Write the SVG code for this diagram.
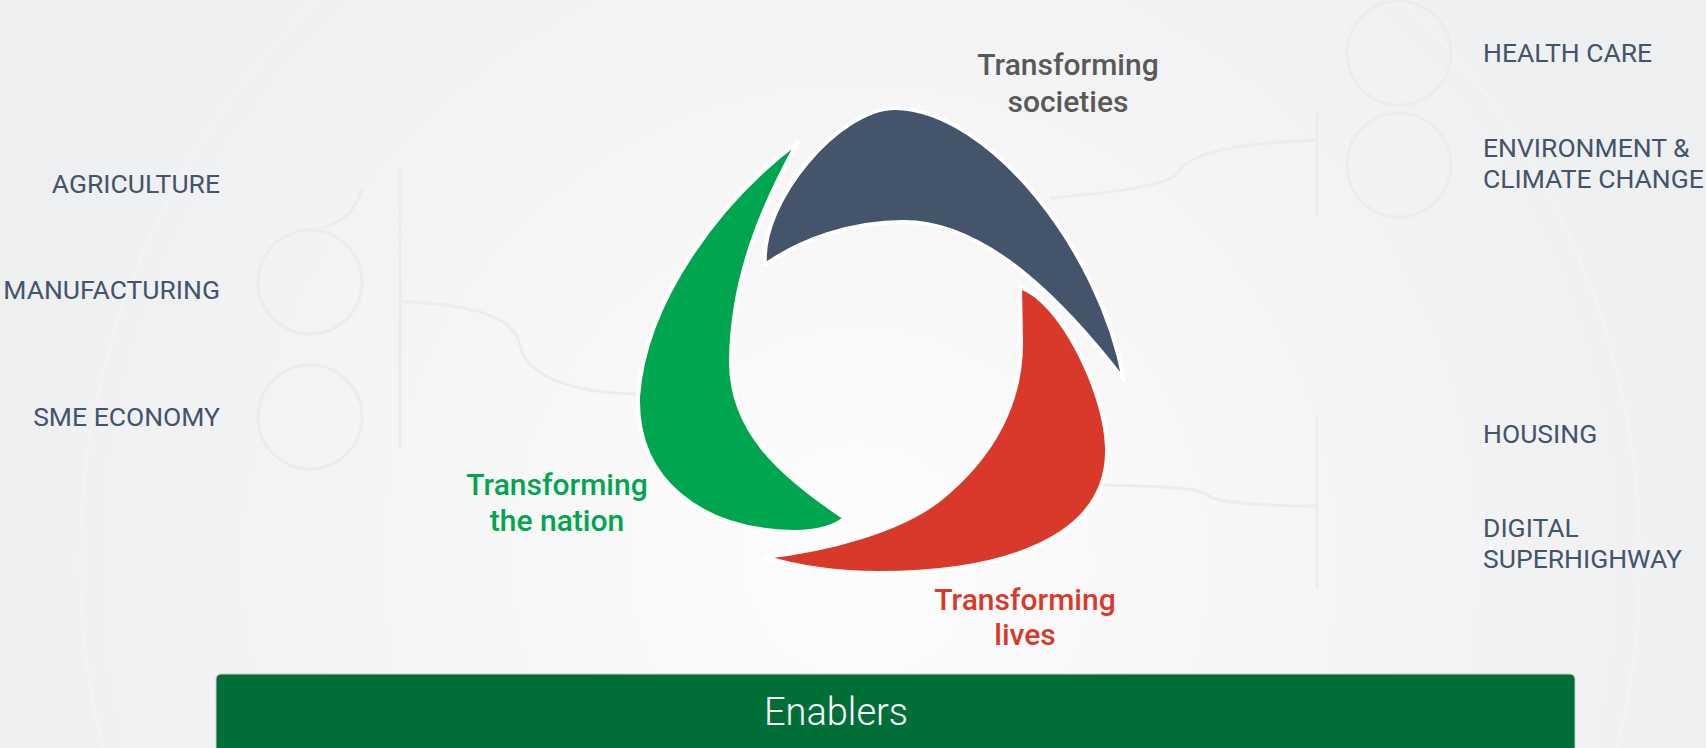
<svg xmlns="http://www.w3.org/2000/svg" width="1706" height="748" viewBox="0 0 1706 748">
<defs>
<radialGradient id="bg" cx="860" cy="560" r="900" gradientUnits="userSpaceOnUse">
<stop offset="0" stop-color="#fdfdfd"/>
<stop offset="0.45" stop-color="#f6f6f7"/>
<stop offset="1" stop-color="#eeeff1"/>
</radialGradient>
<style>
.lbl{font-family:Roboto,"Liberation Sans",sans-serif;font-size:26.5px;fill:#44546a}
.ttl{font-family:Roboto,"Liberation Sans",sans-serif;font-size:30px;font-weight:500;text-anchor:middle}
.deco{fill:none;stroke:#ebecee;stroke-width:3}
.seg{stroke:#ffffff;stroke-width:4;stroke-linejoin:round}
</style>
</defs>
<rect width="1706" height="748" fill="url(#bg)"/>
<g id="background-decor">
<circle cx="860" cy="560" r="780" fill="none" stroke="#f2f3f4" stroke-width="3"/>
<circle class="deco" cx="310" cy="282" r="52"/>
<circle class="deco" cx="310" cy="417" r="52"/>
<path class="deco" d="M323,228 Q355,218 362,188"/>
<line class="deco" x1="400" y1="170" x2="400" y2="448"/>
<circle class="deco" cx="1399" cy="53" r="52"/>
<circle class="deco" cx="1399" cy="165" r="52"/>
<line class="deco" x1="1317" y1="110" x2="1317" y2="217"/>
<line class="deco" x1="1317" y1="417" x2="1317" y2="588"/>
</g>
<g id="connectors">
<path class="deco" d="M402,302 C480,304 515,320 520,345 C525,375 570,393 638,394"/>
<path class="deco" d="M1098,485 C1160,486 1200,488 1206,494 C1212,502 1260,506 1317,506"/>
<path class="deco" d="M1050,198 C1120,192 1170,185 1178,172 C1188,155 1230,143 1317,140"/>
</g>
<g id="transforming-societies">
<path class="seg" fill="#44546a" d="M765,265 C760,200 840,108 895,108 C990,110 1100,250 1124,380 C1070,310 990,222 904,222 C850,222 800,240 765,265 Z"/>
<text class="ttl" fill="#595959" x="1068" y="75">Transforming</text>
<text class="ttl" fill="#595959" x="1068" y="112">societies</text>
</g>
<g id="transforming-nation">
<path class="seg" fill="#00a550" d="M798,142 C720,200 645,300 638,397 C636,480 700,530 793,532 C820,532 838,525 845,518 C780,475 730,430 731,360 C732,280 760,210 798,142 Z"/>
<text class="ttl" fill="#00a550" x="557" y="495">Transforming</text>
<text class="ttl" fill="#00a550" x="557" y="531">the nation</text>
</g>
<g id="transforming-lives">
<path class="seg" fill="#d9392b" d="M1020,287 C1060,300 1105,390 1107,447 C1110,540 1000,573 879,573 C830,573 790,565 764,557 C830,550 900,530 939,500 C995,455 1022,400 1021,340 Z"/>
<text class="ttl" fill="#d9392b" x="1025" y="610">Transforming</text>
<text class="ttl" fill="#d9392b" x="1025" y="645">lives</text>
</g>
<g id="left-labels">
<text class="lbl" x="220" y="193" text-anchor="end">AGRICULTURE</text>
<text class="lbl" x="220" y="299" text-anchor="end">MANUFACTURING</text>
<text class="lbl" x="220" y="426" text-anchor="end">SME ECONOMY</text>
</g>
<g id="right-labels">
<text class="lbl" x="1483" y="62">HEALTH CARE</text>
<text class="lbl" x="1483" y="157">ENVIRONMENT &amp;</text>
<text class="lbl" x="1483" y="188">CLIMATE CHANGE</text>
<text class="lbl" x="1483" y="443">HOUSING</text>
<text class="lbl" x="1483" y="537">DIGITAL</text>
<text class="lbl" x="1483" y="568">SUPERHIGHWAY</text>
</g>
<g id="enablers">
<rect x="216" y="674" width="1359" height="84" rx="5" fill="#006f37" stroke="#c9cfcb" stroke-width="1"/>
<text x="836" y="725" text-anchor="middle" style="font-family:Roboto,'Liberation Sans',sans-serif;font-size:38px;font-weight:300;fill:#ffffff">Enablers</text>
</g>
</svg>
